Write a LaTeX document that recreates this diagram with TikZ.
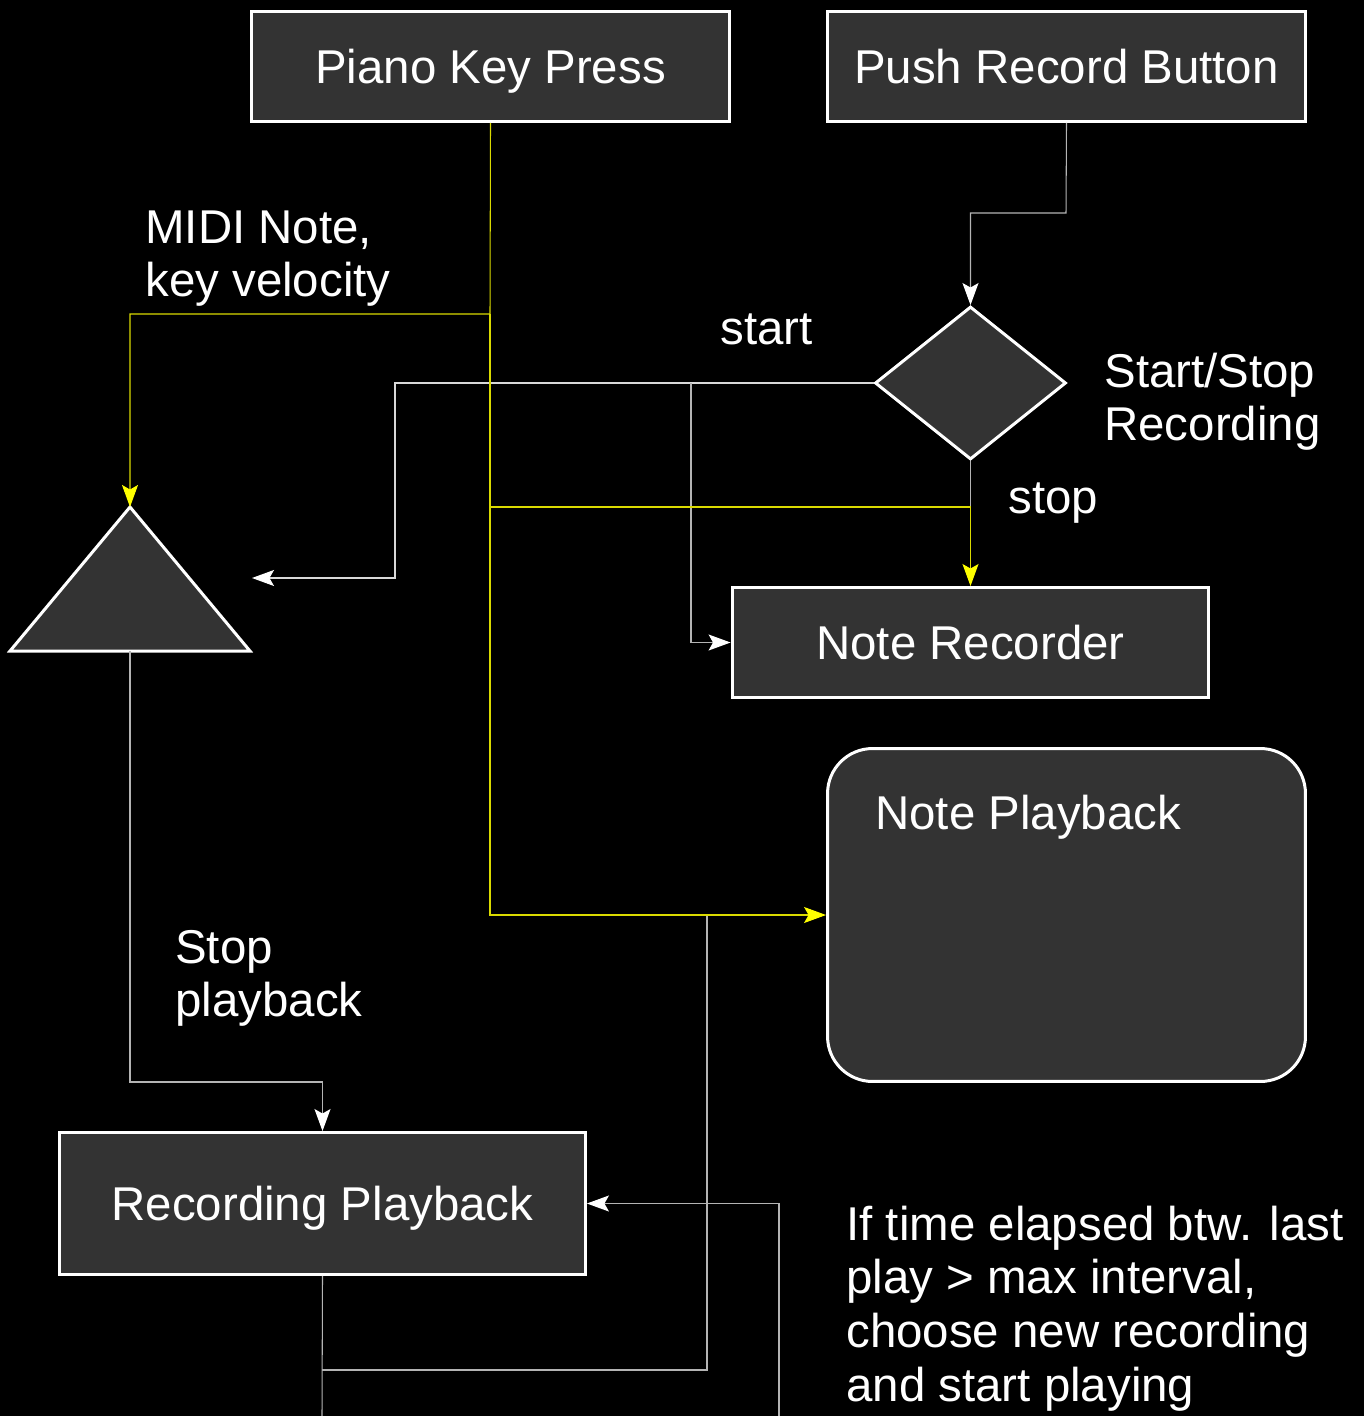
\documentclass[tikz,border=0pt]{standalone}
\usepackage{fontspec}
\setmainfont{Liberation Sans}
\usetikzlibrary{arrows.meta,shapes.geometric}
\definecolor{boxfill}{HTML}{333333}
\definecolor{wire}{HTML}{B4B4B4}
\definecolor{sigline}{HTML}{DADA00}
\definecolor{sigtip}{HTML}{FFFF00}
\tikzset{
  box/.style={draw=white, fill=boxfill, line width=0.06cm, text=white,
    inner sep=0pt, text height=19.3pt, text depth=0pt},
  wireline/.style={draw=wire, line width=0.6pt},
  sigwire/.style={draw=sigline, line width=0.6pt},
  tipw/.style={-{Stealth[length=0.44cm,width=0.32cm,inset=0.09cm,color=white]}},
  tipy/.style={-{Stealth[length=0.44cm,width=0.32cm,inset=0.09cm,color=sigtip]}},
  caption/.style={text=white, inner sep=0pt},
}
\begin{document}
\begin{tikzpicture}[x=0.02cm, y=-0.02cm,
  font=\fontsize{27pt}{30.7pt}\selectfont]
\fill[black] (0,0) rectangle (1364,1416);
\useasboundingbox (0,0) rectangle (1364,1416);

% blocks
\node[box, minimum width=9.56cm, minimum height=2.2cm] (pk) at (490.5,66.5) {Piano Key Press};
\node[box, minimum width=9.56cm, minimum height=2.2cm] (prb) at (1066.5,66.5) {Push Record Button};
\node[box, diamond, minimum width=3.82cm, minimum height=3.06cm] (dec) at (970.5,383) {};
\node[box, minimum width=9.54cm, minimum height=2.2cm] (nr) at (970.5,642.5) {Note Recorder};
\node[box, rounded corners=0.9cm, minimum width=9.56cm, minimum height=6.66cm] (np) at (1066.5,915) {};
\node[box, minimum width=10.52cm, minimum height=2.84cm] (rp) at (322.5,1203.5) {Recording Playback};

% gain stage drawn as a triangle
\draw[draw=white, fill=boxfill, line width=0.06cm, line join=miter]
  (130,507) -- (250,651) -- (10,651) -- cycle;
\coordinate (tritop) at (130,507);
\coordinate (tribot) at (130,651);

% labels
\node[caption, anchor=base west] (nplabel) at (875,829) {Note Playback};
\node[caption, anchor=base west] (midi) at (145,243)
  {\begin{tabular}[t]{@{}l@{}}MIDI Note,\\key velocity\end{tabular}};
\node[caption, anchor=base west] (startlbl) at (720,344) {start};
\node[caption, anchor=base west] (stoplbl) at (1008,513) {stop};
\node[caption, anchor=base west] (declbl) at (1104,387)
  {\begin{tabular}[t]{@{}l@{}}Start/Stop\\Recording\end{tabular}};
\node[caption, anchor=base west] (stoppb) at (175,963)
  {\begin{tabular}[t]{@{}l@{}}Stop\\playback\end{tabular}};
\node[caption, anchor=base west] (rule) at (846,1240)
  {\begin{tabular}[t]{@{}l@{}}If time elapsed btw. last\\play > max interval,\\choose new recording\\and start playing\end{tabular}};

% junction points
\coordinate (ysplit) at (490,314);
\coordinate (ybranch) at (490,507);
\coordinate (starttap) at (691,383);
\coordinate (startend) at (252,578);
\coordinate (rpbot) at (322,1416);
\coordinate (rploop) at (322,1370);
\coordinate (loopup) at (707,914);
\coordinate (retfoot) at (779,1416);

% control wires
\draw[wireline, tipw] (prb.south) -- (1066,213) -| (dec.north);
\draw[wireline, draw=white!85!black, tipw] (dec.west) -| (395,578) -- (startend);
\draw[wireline, tipw] (starttap) |- (nr.west);
\draw[wireline] (dec.south) -- (970.5,523);
\draw[wireline, tipw] (tribot) -- (130,1082) -| (rp.north);
\draw[wireline] (rp.south) -- (rpbot);
\draw[wireline] (rploop) -| (loopup);
\draw[wireline, tipw] (retfoot) |- (rp.east);

% note signal wires
\draw[sigwire, tipy] (pk.south) -- (ysplit) -| (tritop);
\draw[sigwire, tipy] (ysplit) -- (ybranch) -| (nr.north);
\draw[sigwire, tipy] (ybranch) -- (490,915) -- (np.west);
\end{tikzpicture}
\end{document}
